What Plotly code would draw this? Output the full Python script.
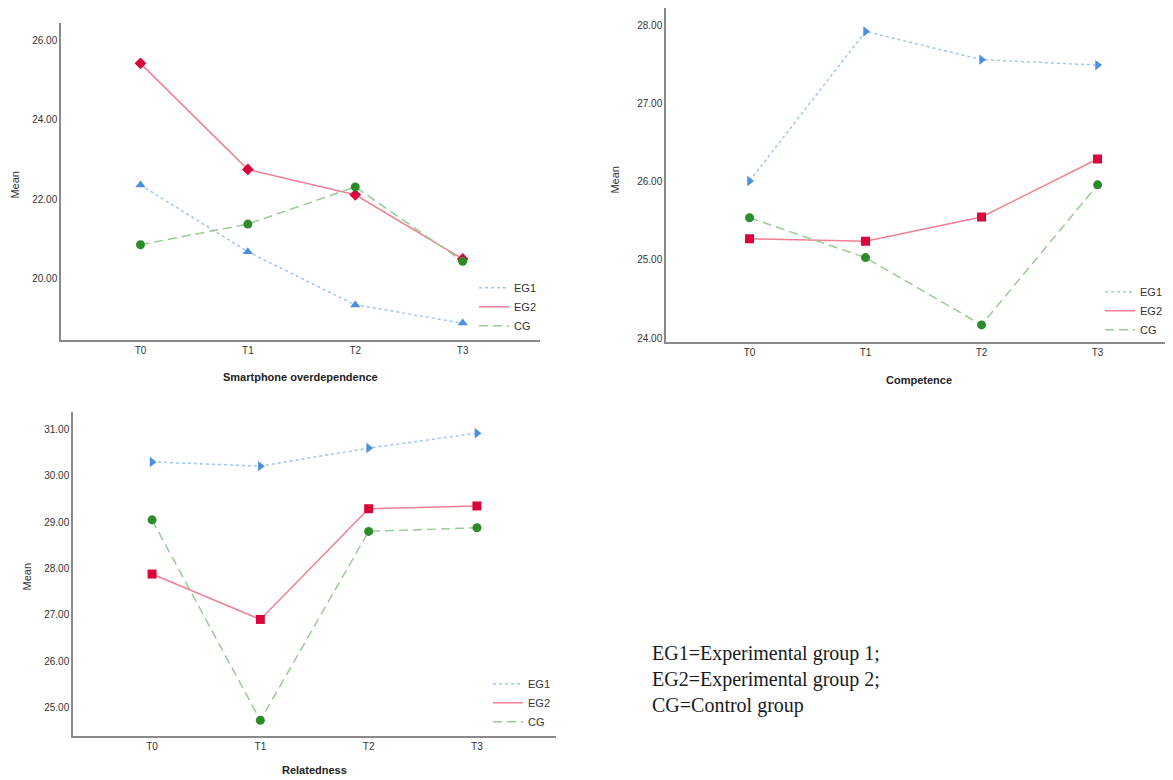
import plotly.graph_objects as go

categories = ["T0", "T1", "T2", "T3"]
groups = ["EG1", "EG2", "CG"]

# Smartphone overdependence
smart_eg1 = [22.36, 20.67, 19.33, 18.87]
smart_eg2 = [25.43, 22.75, 22.11, 20.49]
smart_cg = [20.85, 21.37, 22.31, 20.43]

# Competence
comp_eg1 = [26.01, 27.92, 27.56, 27.49]
comp_eg2 = [25.27, 25.24, 25.55, 26.29]
comp_cg = [25.54, 25.03, 24.17, 25.96]

# Relatedness
rel_eg1 = [30.30, 30.21, 30.60, 30.92]
rel_eg2 = [27.88, 26.90, 29.29, 29.35]
rel_cg = [29.05, 24.72, 28.80, 28.88]

panel_titles = ["Smartphone overdependence", "Competence", "Relatedness"]
note_lines = ["EG1=Experimental group 1;", "EG2=Experimental group 2;", "CG=Control group"]

line_colors = {"EG1": "#9fc5f2", "EG2": "#f07f93", "CG": "#97cc92"}
marker_colors = {"EG1": "#4a8fe0", "EG2": "#d9043c", "CG": "#2e8b2a"}
dashes = {"EG1": "dot", "EG2": "solid", "CG": "9px,5px"}

panels = [
    dict(data=[smart_eg1, smart_eg2, smart_cg],
         symbols=["triangle-up", "diamond", "circle"],
         xa="x", ya="y", legend="legend"),
    dict(data=[comp_eg1, comp_eg2, comp_cg],
         symbols=["triangle-right", "square", "circle"],
         xa="x2", ya="y2", legend="legend2"),
    dict(data=[rel_eg1, rel_eg2, rel_cg],
         symbols=["triangle-right", "square", "circle"],
         xa="x3", ya="y3", legend="legend3"),
]

fig = go.Figure()
for p in panels:
    for g, vals, sym in zip(groups, p["data"], p["symbols"]):
        fig.add_trace(go.Scatter(
            x=categories, y=vals, mode="lines+markers", name=g,
            xaxis=p["xa"], yaxis=p["ya"], showlegend=False,
            line=dict(color=line_colors[g], width=1.5, dash=dashes[g]),
            marker=dict(symbol=sym, size=9, color=marker_colors[g]),
            hoverinfo="skip"))
    for g in groups:
        fig.add_trace(go.Scatter(
            x=[None], y=[None], mode="lines", name=g,
            xaxis=p["xa"], yaxis=p["ya"], legend=p["legend"], showlegend=True,
            line=dict(color=line_colors[g], width=1.5, dash=dashes[g])))

tickfont = dict(family="Liberation Sans, Arial, sans-serif", size=10, color="#333333")

# page has an 8px body margin, so lay the figure out in page pixels minus the offset
OFF = 8
W, H = 1173 - OFF, 780 - OFF

def px(v):
    return (v - OFF) / W

def py(v):
    return 1 - (v - OFF) / H

def xaxis(x0, x1, anchor, rng):
    return dict(domain=[max(0, px(x0)), min(1, px(x1))], anchor=anchor, type="category", range=rng,
                showline=True, linecolor="#8a8a8a", linewidth=1.5,
                showgrid=False, zeroline=False, ticks="", tickfont=tickfont)

def yaxis(top, bottom, anchor, rng, dtick):
    return dict(domain=[py(bottom), min(1, py(top))], anchor=anchor, range=rng, dtick=dtick,
                tickformat=".2f", showline=True, linecolor="#8a8a8a",
                linewidth=1.5, showgrid=False, zeroline=False, ticks="",
                tickfont=tickfont)

def legend_pos(xp, yp):
    return dict(x=px(xp), y=py(yp), xanchor="left", yanchor="top",
                bgcolor="rgba(0,0,0,0)", tracegroupgap=0, itemwidth=30,
                font=dict(family="Liberation Sans, Arial, sans-serif", size=11, color="#333333"))

fig.update_layout(
    width=W, height=H,
    margin=dict(l=0, r=0, t=0, b=0),
    paper_bgcolor="white", plot_bgcolor="white",
    xaxis=xaxis(61, 540, "y", [-0.74, 3.72]),
    yaxis=yaxis(23, 341, "x", [18.44, 26.45], 2),
    xaxis2=xaxis(666, 1173, "y2", [-0.72, 3.65]),
    yaxis2=yaxis(8, 343, "x2", [23.95, 28.22], 1),
    xaxis3=xaxis(73, 556, "y3", [-0.73, 3.73]),
    yaxis3=yaxis(413, 738, "x3", [24.38, 31.38], 1),
    legend=legend_pos(474, 274),
    legend2=legend_pos(1100, 278),
    legend3=legend_pos(488, 671),
    showlegend=True,
)

title_font = dict(family="Liberation Sans, Arial, sans-serif", size=11, color="#222222")
annotations = []
title_pos = [(300, 378), (919, 381), (314, 772)]
for t, (xp, yp) in zip(panel_titles, title_pos):
    annotations.append(dict(text="<b>%s</b>" % t, x=px(xp), y=py(yp),
                            xref="paper", yref="paper", showarrow=False,
                            xanchor="center", yanchor="middle", font=title_font))
mean_pos = [(15, 185), (615, 180), (27, 578)]
for xp, yp in mean_pos:
    annotations.append(dict(text="Mean", x=px(xp), y=py(yp), xref="paper",
                            yref="paper", showarrow=False, textangle=-90,
                            xanchor="center", yanchor="middle",
                            font=dict(family="Liberation Sans, Arial, sans-serif",
                                      size=11, color="#333333")))
annotations.append(dict(text="<br>".join(note_lines), x=px(650), y=py(681),
                        xref="paper", yref="paper", showarrow=False,
                        xanchor="left", yanchor="middle", align="left",
                        font=dict(family="Liberation Serif, Times New Roman, serif",
                                  size=20, color="#1a1a1a")))
fig.update_layout(annotations=annotations)

fig.write_html("out.html")
